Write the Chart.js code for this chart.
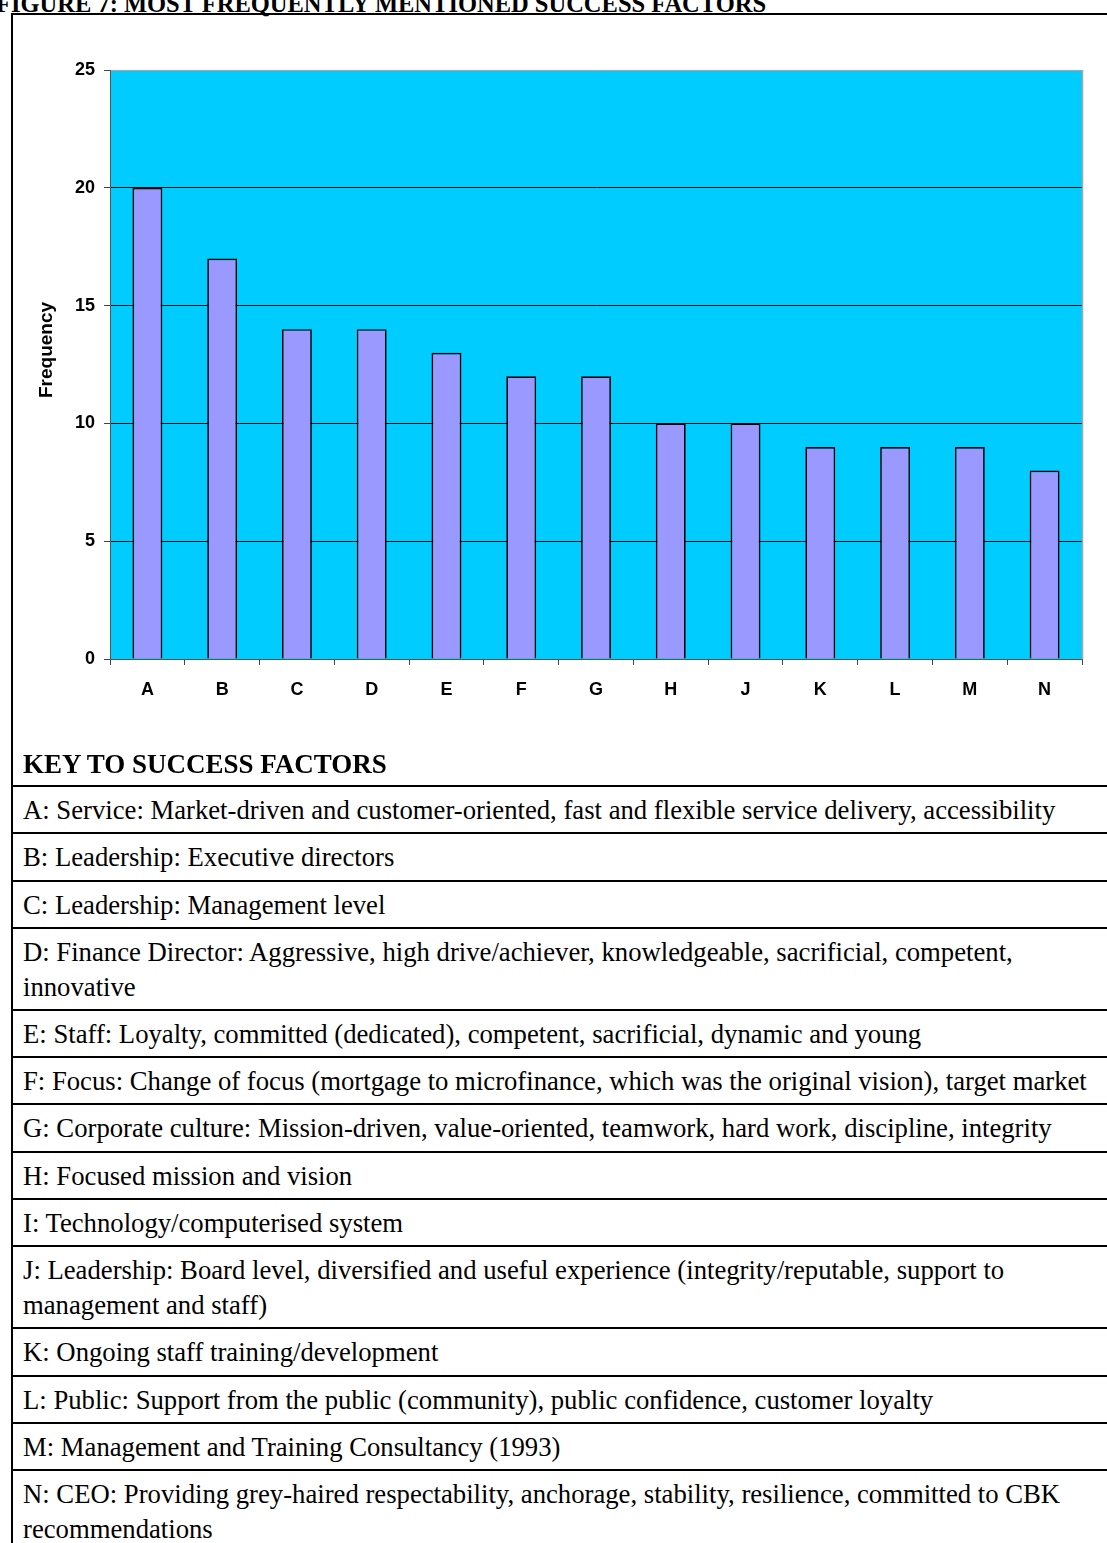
<!DOCTYPE html>
<html>
<head>
<meta charset="utf-8">
<script src="https://cdn.jsdelivr.net/npm/chart.js@4/dist/chart.umd.min.js"></script>
<style>
  html, body { margin: 0; padding: 0; background: #fff; }
  #page { position: relative; width: 1107px; height: 1543px; overflow: hidden; background: #fff; }
  #frame { position: absolute; left: 11px; top: 13px; width: 1200px; height: 1600px;
           border-left: 2px solid #000; border-top: 2px solid #000; box-sizing: border-box; }
  #figTitle { position: absolute; left: -4px; top: -9px; font-family: "Liberation Serif", "Times New Roman", serif;
              font-weight: bold; font-size: 24.5px; line-height: 25px; white-space: nowrap; color: #000; }
  #chartWrap { position: absolute; left: 0; top: 0; width: 1107px; height: 760px; }
  #keyTitle { position: absolute; left: 23px; top: 749px; font-family: "Liberation Serif", "Times New Roman", serif;
              font-weight: bold; font-size: 27px; line-height: 30px; white-space: nowrap; color: #000; }
  #keyTable { position: absolute; left: 13px; top: 785px; width: 1200px; border-top: 2px solid #000; }
  .row { box-sizing: border-box; height: 47.3px; border-bottom: 2px solid #000; padding: 6px 0 0 10px;
         font-family: "Liberation Serif", "Times New Roman", serif; font-size: 26.7px; line-height: 35px;
         white-space: nowrap; color: #000; }
  .row.two { height: 82px; }
</style>
</head>
<body>
<div id="page">
  <div id="frame"></div>
  <div id="figTitle">FIGURE 7: MOST FREQUENTLY MENTIONED SUCCESS FACTORS</div>
  <div id="chartWrap"><canvas id="c" width="1107" height="760"></canvas></div>
  <div id="keyTitle">KEY TO SUCCESS FACTORS</div>
  <div id="keyTable"></div>
</div>
<script>
const categories = ['A', 'B', 'C', 'D', 'E', 'F', 'G', 'H', 'J', 'K', 'L', 'M', 'N'];
const frequency = [20, 17, 14, 14, 13, 12, 12, 10, 10, 9, 9, 9, 8];
const yTickValues = [0, 5, 10, 15, 20, 25];
const yAxisTitle = 'Frequency';
const keyRows = [
  ['A: Service: Market-driven and customer-oriented, fast and flexible service delivery, accessibility'],
  ['B: Leadership: Executive directors'],
  ['C: Leadership: Management level'],
  ['D: Finance Director: Aggressive, high drive/achiever, knowledgeable, sacrificial, competent,', 'innovative'],
  ['E: Staff: Loyalty, committed (dedicated), competent, sacrificial, dynamic and young'],
  ['F: Focus: Change of focus (mortgage to microfinance, which was the original vision), target market'],
  ['G: Corporate culture: Mission-driven, value-oriented, teamwork, hard work, discipline, integrity'],
  ['H: Focused mission and vision'],
  ['I: Technology/computerised system'],
  ['J: Leadership: Board level, diversified and useful experience (integrity/reputable, support to', 'management and staff)'],
  ['K: Ongoing staff training/development'],
  ['L: Public: Support from the public (community), public confidence, customer loyalty'],
  ['M: Management and Training Consultancy (1993)'],
  ['N: CEO: Providing grey-haired respectability, anchorage, stability, resilience, committed to CBK', 'recommendations']
];

// build key table
const tbl = document.getElementById('keyTable');
keyRows.forEach(lines => {
  const d = document.createElement('div');
  d.className = 'row' + (lines.length > 1 ? ' two' : '');
  lines.forEach((t, i) => {
    if (i > 0) d.appendChild(document.createElement('br'));
    d.appendChild(document.createTextNode(t));
  });
  tbl.appendChild(d);
});

const AREA = { left: 110, top: 70, right: 1082, bottom: 659 };
const CANVAS_W = 1107, CANVAS_H = 760;

const plotDecor = {
  id: 'plotDecor',
  beforeDraw(chart) {
    const a = chart.chartArea, ctx = chart.ctx;
    ctx.save();
    ctx.fillStyle = '#00CCFF';
    ctx.fillRect(a.left, a.top, a.right - a.left, a.bottom - a.top);
    ctx.restore();
  },
  afterDraw(chart) {
    const a = chart.chartArea, ctx = chart.ctx;
    ctx.save();
    ctx.strokeStyle = '#a6a6a6';
    ctx.lineWidth = 1.5;
    ctx.beginPath();
    ctx.moveTo(a.right + 0.5, a.top);
    ctx.lineTo(a.right + 0.5, a.bottom);
    ctx.stroke();
    ctx.fillStyle = '#000';
    ctx.font = 'bold 19px "Liberation Sans", Arial, sans-serif';
    ctx.textAlign = 'center';
    ctx.textBaseline = 'middle';
    ctx.translate(47, 350);
    ctx.rotate(-Math.PI / 2);
    ctx.fillText(yAxisTitle, 0, 0);
    ctx.restore();
  }
};

new Chart(document.getElementById('c'), {
  type: 'bar',
  data: {
    labels: categories,
    datasets: [{
      data: frequency,
      backgroundColor: '#9999FF',
      borderColor: '#000',
      borderWidth: 1.7,
      borderSkipped: 'bottom',
      barPercentage: 0.4,
      categoryPercentage: 1.0
    }]
  },
  options: {
    responsive: false,
    animation: false,
    devicePixelRatio: 1,
    layout: { padding: { left: 0, top: AREA.top, right: CANVAS_W - AREA.right, bottom: 0 } },
    plugins: { legend: { display: false }, tooltip: { enabled: false }, title: { display: false } },
    scales: {
      x: {
        grid: { offset: true, drawOnChartArea: false, drawTicks: true, tickLength: 6, color: '#444', lineWidth: 1 },
        border: { display: true, color: '#555', width: 1 },
        ticks: { color: '#000', padding: 14, font: { family: '"Liberation Sans", Arial, sans-serif', weight: 'bold', size: 18 } },
        afterFit(s) { s.height = CANVAS_H - AREA.bottom; }
      },
      y: {
        min: 0, max: 25,
        afterBuildTicks(s) { s.ticks = yTickValues.map(v => ({ value: v })); },
        grid: {
          drawTicks: true, tickLength: 6,
          color: ctx => ctx.tick && ctx.tick.value === 25 ? '#a6a6a6' : (ctx.tick && ctx.tick.value === 0 ? '#555' : '#000'),
          tickColor: '#444',
          lineWidth: 1
        },
        border: { display: true, color: '#555', width: 1 },
        ticks: { color: '#000', padding: 9, font: { family: '"Liberation Sans", Arial, sans-serif', weight: 'bold', size: 18 } },
        afterFit(s) { s.width = AREA.left; }
      }
    }
  },
  plugins: [plotDecor]
});
</script>
</body>
</html>
